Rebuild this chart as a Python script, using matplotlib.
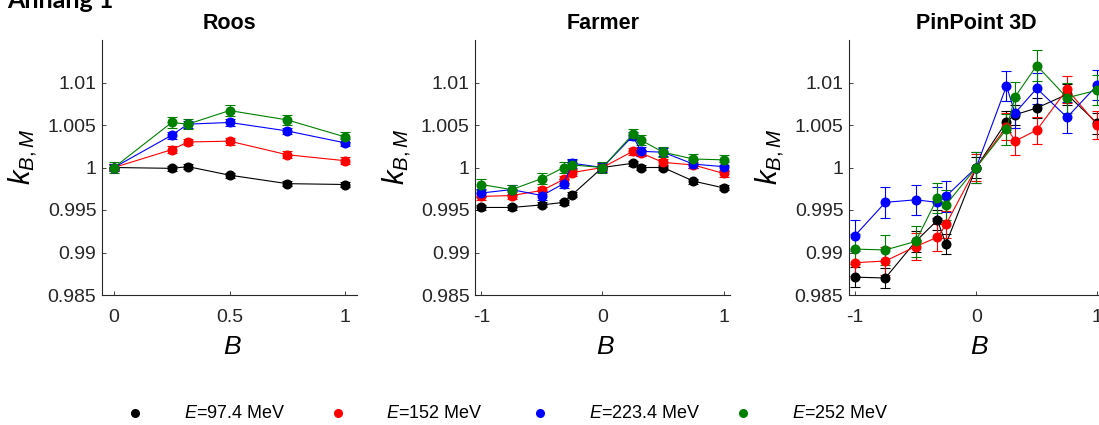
import matplotlib
matplotlib.use("Agg")
import matplotlib.pyplot as plt
from matplotlib.lines import Line2D

plt.rcParams['font.family'] = ['Liberation Sans', 'DejaVu Sans']
plt.rcParams['mathtext.fontset'] = 'custom'
plt.rcParams['mathtext.it'] = 'Liberation Sans:italic'
plt.rcParams['mathtext.rm'] = 'Liberation Sans'

# ---- data ----------------------------------------------------------------
energies = ["97.4", "152", "223.4", "252"]
colors = ["black", "red", "blue", "green"]

roos_B = [0, 0.25, 0.32, 0.5, 0.75, 1]
roos_k = [
    [1.0, 0.9999, 1.0001, 0.9991, 0.9981, 0.9980],
    [1.0, 1.0021, 1.0030, 1.0031, 1.0015, 1.0008],
    [1.0, 1.0038, 1.0051, 1.0053, 1.0043, 1.0029],
    [1.0, 1.0053, 1.0051, 1.0067, 1.0056, 1.0036],
]
roos_err = [0.0003, 0.0004, 0.0004, 0.0006]

farmer_B = [-1, -0.75, -0.5, -0.32, -0.25, 0, 0.25, 0.32, 0.5, 0.75, 1]
farmer_k = [
    [0.9953, 0.9953, 0.9956, 0.9959, 0.9968, 1.0, 1.0005, 1.0000, 1.0000, 0.9984, 0.9976],
    [0.9966, 0.9967, 0.9973, 0.9986, 0.9994, 1.0, 1.0019, 1.0017, 1.0006, 1.0003, 0.9993],
    [0.9970, 0.9974, 0.9967, 0.9981, 1.0005, 1.0, 1.0037, 1.0019, 1.0018, 1.0004, 1.0001],
    [0.9980, 0.9974, 0.9987, 1.0000, 1.0003, 1.0, 1.0039, 1.0032, 1.0018, 1.0010, 1.0009],
]
farmer_err = [0.0003, 0.0004, 0.0005, 0.0006]

pinpoint_B = [-1, -0.75, -0.5, -0.32, -0.25, 0, 0.25, 0.32, 0.5, 0.75, 1]
pinpoint_k = [
    [0.9871, 0.9870, 0.9913, 0.9938, 0.9910, 1.0, 1.0054, 1.0062, 1.0070, 1.0086, 1.0052],
    [0.9888, 0.9890, 0.9907, 0.9918, 0.9933, 1.0, 1.0048, 1.0031, 1.0044, 1.0092, 1.0050],
    [0.9920, 0.9959, 0.9962, 0.9959, 0.9966, 1.0, 1.0096, 1.0064, 1.0093, 1.0059, 1.0097],
    [0.9904, 0.9903, 0.9913, 0.9964, 0.9956, 1.0, 1.0045, 1.0083, 1.0120, 1.0082, 1.0091],
]
pinpoint_err = [0.0012, 0.0016, 0.0018, 0.0018]

panels = [
    ("Roos", roos_B, roos_k, roos_err, [0, 0.5, 1], ["0", "0.5", "1"], (-0.052, 1.052)),
    ("Farmer", farmer_B, farmer_k, farmer_err, [-1, 0, 1], ["-1", "0", "1"], (-1.05, 1.055)),
    ("PinPoint 3D", pinpoint_B, pinpoint_k, pinpoint_err, [-1, 0, 1], ["-1", "0", "1"], (-1.05, 1.055)),
]

y_ticks = [0.985, 0.99, 0.995, 1.0, 1.005, 1.01]
y_ticklabels = ["0.985", "0.99", "0.995", "1", "1.005", "1.01"]

# ---- figure --------------------------------------------------------------
W, H = 1099, 425
fig = plt.figure(figsize=(W / 100, H / 100), dpi=100)

ink = "#262626"
lefts = [102, 475.3, 849]
for left, (title, B, K, errs, xt, xtl, xlim) in zip(lefts, panels):
    ax = fig.add_axes([left / W, 1 - 295 / H, 255 / W, 255 / H])
    for k, e, c in zip(K, errs, colors):
        ax.errorbar(B, k, yerr=e, color=c, marker="o", markersize=6.2,
                    linewidth=0.8, elinewidth=0.8, capsize=3.6, capthick=0.8)
    ax.set_xlim(*xlim)
    ax.set_ylim(0.985, 1.015)
    ax.set_xticks(xt)
    ax.set_xticklabels(xtl)
    ax.set_yticks(y_ticks)
    ax.set_yticklabels(y_ticklabels)
    ax.spines["top"].set_visible(False)
    ax.spines["right"].set_visible(False)
    for s in ("left", "bottom"):
        ax.spines[s].set_color(ink)
        ax.spines[s].set_linewidth(0.8)
    ax.tick_params(direction="in", length=3, width=0.6, colors=ink,
                   labelsize=14)
    ax.tick_params(axis="y", pad=4)
    ax.tick_params(axis="x", pad=10)
    ax.set_title(title, fontsize=15.5, fontweight="bold", pad=8)
    ax.set_ylabel("$k_{B,M}$", fontsize=21, va="center")
    ax.yaxis.set_label_coords(-0.31, 0.54)
    ax.set_xlabel("$B$", fontsize=19)
    ax.xaxis.set_label_coords(0.51, -0.155)

fig.text(7 / W, 1 - 8 / H, "Anhang 1", fontsize=18, fontweight="bold",
         family="Lato", ha="left", va="baseline", color="black")

# legend row: marker followed by label, evenly spaced
leg_ax = fig.add_axes([0, 0, 1, 1], frameon=False)
leg_ax.set_xlim(0, W)
leg_ax.set_ylim(H, 0)
leg_ax.set_axis_off()
for i, (e, c) in enumerate(zip(energies, colors)):
    x0 = 135 + i * 202.5
    leg_ax.add_line(Line2D([x0], [413], marker="o", markersize=5.5,
                           color=c, linestyle="none"))
    leg_ax.text(x0 + 49, 414, f"$E$={e} MeV", fontsize=13, ha="left",
                va="center", color="black")

fig.savefig("out.png", dpi=100)
